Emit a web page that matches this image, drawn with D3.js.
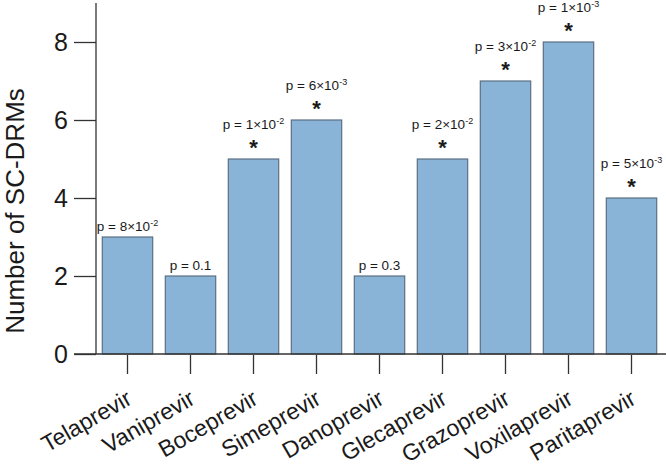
<!DOCTYPE html>
<html><head><meta charset="utf-8">
<script src="https://cdn.jsdelivr.net/npm/d3@7"></script>
<style>body{margin:0;background:#fff}svg{display:block}text{font-family:"Liberation Sans",Arial,sans-serif;fill:#1a1a1a}</style>
</head><body><svg id="c" width="666" height="466"></svg>
<script>
const categories = ["Telaprevir","Vaniprevir","Boceprevir","Simeprevir","Danoprevir","Glecaprevir","Grazoprevir","Voxilaprevir","Paritaprevir"];
const values = [3,2,5,6,2,5,7,8,4];
const pMantissa = ["8","0.1","1","6","0.3","2","3","1","5"];
const pExponent = ["-2",null,"-2","-3",null,"-2","-2","-3","-3"];
const significant = [false,false,true,true,false,true,true,true,true];
const yTicks = [0,2,4,6,8];

const svg = d3.select("#c");
const x = d3.scaleBand().domain(categories).range([96,663]).paddingInner(0.2).paddingOuter(0.1);
const y = d3.scaleLinear().domain([0,9]).range([354,3]);

// bars
svg.selectAll("rect.bar").data(values).join("rect")
  .attr("x",(d,i)=>x(categories[i])).attr("width",x.bandwidth())
  .attr("y",d=>y(d)).attr("height",d=>y(0)-y(d))
  .attr("fill","#8ab4d7").attr("stroke","#5b6f82").attr("stroke-width",1.2);

// y axis
const ya = svg.append("g").attr("transform","translate(96,0)")
  .call(d3.axisLeft(y).tickValues(yTicks).tickSize(22).tickPadding(6).tickFormat(d3.format("d")));
ya.select(".domain").remove();
ya.selectAll(".tick line").attr("stroke","#333").attr("stroke-width",1.3);
ya.selectAll(".tick text").attr("font-size",25).attr("fill","#1a1a1a").style("font-family","Liberation Sans, Arial, sans-serif");
svg.append("line").attr("x1",96).attr("x2",96).attr("y1",y(9)).attr("y2",y(0)).attr("stroke","#333").attr("stroke-width",1.3);
svg.append("line").attr("x1",74).attr("x2",666).attr("y1",y(0)).attr("y2",y(0)).attr("stroke","#333").attr("stroke-width",1.3);

// x axis (offset ticks)
const xa = svg.append("g").attr("transform","translate(0,355)")
  .call(d3.axisBottom(x).tickSize(19).tickPadding(0));
xa.select(".domain").remove();
xa.selectAll(".tick line").attr("stroke","#333").attr("stroke-width",1.3);
xa.selectAll(".tick text").attr("font-size",23).attr("fill","#1a1a1a")
  .style("font-family","Liberation Sans, Arial, sans-serif")
  .attr("text-anchor","end").attr("x",0).attr("y",0).attr("dy",0)
  .attr("transform","translate(6,48) rotate(-30)");

// y title
svg.append("text").attr("transform","translate(24,211) rotate(-90)").attr("text-anchor","middle")
  .attr("font-size",26).text("Number of SC-DRMs");

// annotations
categories.forEach((c,i)=>{
  const cx = x(c)+x.bandwidth()/2;
  const top = y(values[i]);
  const pY = significant[i] ? top-30 : top-6;
  const t = svg.append("text").attr("x",cx).attr("y",pY).attr("text-anchor","middle").attr("font-size",13.5);
  if(pExponent[i]){
    t.append("tspan").text("p = "+pMantissa[i]+"\u00d710");
    t.append("tspan").attr("font-size",9).attr("dy",-5).text(pExponent[i]);
  } else {
    t.text("p = "+pMantissa[i]);
  }
  if(significant[i]){
    svg.append("text").attr("x",cx).attr("y",top-4).attr("text-anchor","middle")
      .attr("font-size",22).attr("font-weight","bold").text("*");
  }
});
</script></body></html>
